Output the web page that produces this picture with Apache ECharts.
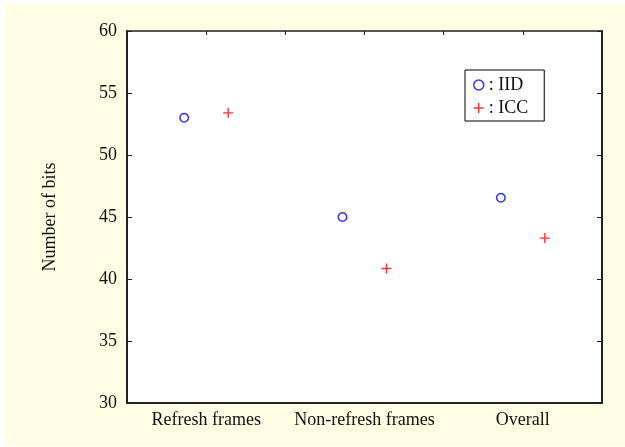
<!DOCTYPE html>
<html>
<head>
<meta charset="utf-8">
<script src="https://cdn.jsdelivr.net/npm/echarts@6/dist/echarts.min.js"></script>
<style>
html,body{margin:0;padding:0;background:#ffffff;}
#bg{position:absolute;left:5px;top:4px;width:620px;height:442px;background:#fffde4;}
#chart{position:absolute;left:0;top:0;width:625px;height:447px;}
</style>
</head>
<body>
<div id="bg"></div>
<div id="chart"></div>
<script>
const categories = ['Refresh frames', 'Non-refresh frames', 'Overall'];
const iidValues = [53.0, 45.0, 46.55];
const iccValues = [53.4, 40.85, 43.3];
const yTicks = { min: 30, max: 60, interval: 5 };
const seriesNames = ['IID', 'ICC'];

const FONT = '"Liberation Serif", "Times New Roman", serif';
const AX = '#222222';
const plusPath = 'path://M0,5L10,5M5,0L5,10';

const chart = echarts.init(document.getElementById('chart'), null, {renderer: 'canvas'});
chart.setOption({
  backgroundColor: 'transparent',
  animation: false,
  grid: { left: 127, top: 31, right: 23, bottom: 44, show: true, backgroundColor: '#ffffff', borderWidth: 0 },
  legend: {
    left: 465, top: 70,
    orient: 'vertical',
    backgroundColor: '#ffffff',
    borderColor: '#000000',
    borderWidth: 1,
    padding: [6, 16, 4, 8],
    itemGap: 5,
    itemWidth: 10, itemHeight: 10,
    formatter: n => ': ' + n,
    textStyle: { fontFamily: FONT, fontSize: 18, color: '#111' },
    data: [
      { name: seriesNames[0], icon: 'circle', itemStyle: { color: '#ffffff', borderColor: '#0000ff', borderWidth: 1.5 } },
      { name: seriesNames[1], icon: plusPath, itemStyle: { color: 'transparent', borderColor: '#ff0000', borderWidth: 1.4 } }
    ]
  },
  xAxis: [
    {
      type: 'category', data: categories, position: 'bottom', boundaryGap: true,
      axisLine: { lineStyle: { color: AX, width: 2 } },
      axisTick: { inside: true, length: 5, lineStyle: { color: AX, width: 1 } },
      axisLabel: { fontFamily: FONT, fontSize: 18, color: '#111', margin: 8, interval: 0 },
      splitLine: { show: false }
    },
    {
      type: 'value', position: 'top', min: 0, max: 6, interval: 1,
      axisLine: { show: true, lineStyle: { color: AX, width: 1.5 } },
      axisTick: { show: true, inside: true, length: 4, lineStyle: { color: AX, width: 1 } },
      axisLabel: { show: false }, splitLine: { show: false }
    }
  ],
  yAxis: [
    {
      type: 'value', position: 'left', min: yTicks.min, max: yTicks.max, interval: yTicks.interval,
      name: 'Number of bits', nameLocation: 'middle', nameGap: 68, nameRotate: 90,
      nameTextStyle: { fontFamily: FONT, fontSize: 18, color: '#111' },
      axisLine: { show: true, lineStyle: { color: AX, width: 2 } },
      axisTick: { show: true, inside: true, length: 5, lineStyle: { color: AX, width: 1 } },
      axisLabel: { fontFamily: FONT, fontSize: 18, color: '#111', margin: 10 },
      splitLine: { show: false }
    },
    {
      type: 'value', position: 'right', min: yTicks.min, max: yTicks.max, interval: yTicks.interval,
      axisLine: { show: true, lineStyle: { color: AX, width: 2 } },
      axisTick: { show: true, inside: true, length: 5, lineStyle: { color: AX, width: 1 } },
      axisLabel: { show: false }, splitLine: { show: false }
    }
  ],
  series: [
    {
      name: seriesNames[0], type: 'scatter', xAxisIndex: 0, yAxisIndex: 0,
      data: iidValues, symbol: 'circle', symbolSize: 8.5, symbolOffset: [-22, 0],
      itemStyle: { color: '#ffffff', borderColor: '#0000ff', borderWidth: 1.5 }
    },
    {
      name: seriesNames[1], type: 'scatter', xAxisIndex: 0, yAxisIndex: 0,
      data: iccValues, symbol: plusPath, symbolSize: 10, symbolOffset: [22, 0],
      itemStyle: { color: 'transparent', borderColor: '#ff0000', borderWidth: 1.4 }
    }
  ]
});
</script>
</body>
</html>
